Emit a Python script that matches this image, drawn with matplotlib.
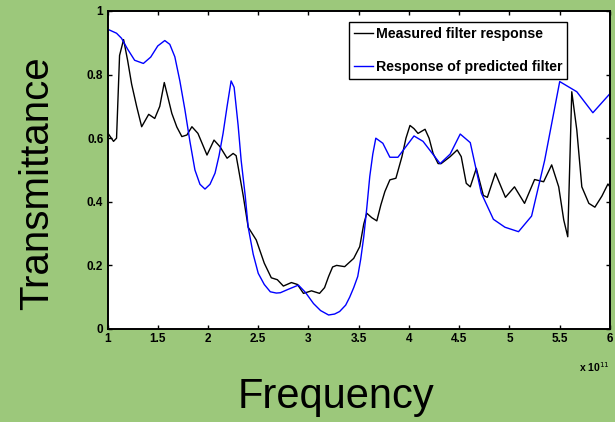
#Transmittance of the measured filter against the predicted filter response

import matplotlib
matplotlib.use('Agg')
import matplotlib.pyplot as plt
from matplotlib import font_manager

# frequency in units of 1e11 Hz
MeasuredFreq = [1.01, 1.06, 1.09, 1.12, 1.16, 1.20, 1.24, 1.29, 1.34, 1.41, 1.47, 1.52, 1.565,
	1.60, 1.64, 1.69, 1.74, 1.79, 1.84, 1.90, 1.99, 2.06, 2.12, 2.19, 2.25, 2.28, 2.30,
	2.35, 2.40, 2.48, 2.56, 2.63, 2.69, 2.75, 2.83, 2.89, 2.95, 3.03, 3.11, 3.16, 3.20,
	3.24, 3.28, 3.36, 3.45, 3.51, 3.55, 3.58, 3.63, 3.68, 3.72, 3.76, 3.81, 3.87, 3.93,
	3.97, 4.01, 4.05, 4.09, 4.16, 4.20, 4.24, 4.29, 4.32, 4.41, 4.48, 4.52, 4.57, 4.61,
	4.67, 4.74, 4.78, 4.86, 4.96, 5.05, 5.15, 5.25, 5.34, 5.42, 5.49, 5.54, 5.58, 5.62,
	5.67, 5.72, 5.79, 5.85, 5.92, 5.98, 6.00]
MeasuredT = [0.613, 0.590, 0.600, 0.860, 0.910, 0.845, 0.770, 0.700, 0.636, 0.675, 0.662, 0.700, 0.775,
	0.730, 0.678, 0.635, 0.605, 0.610, 0.636, 0.615, 0.547, 0.594, 0.573, 0.537, 0.552, 0.545, 0.510,
	0.420, 0.320, 0.280, 0.207, 0.161, 0.155, 0.135, 0.146, 0.140, 0.112, 0.120, 0.112, 0.130, 0.165,
	0.195, 0.200, 0.196, 0.222, 0.259, 0.330, 0.364, 0.350, 0.340, 0.390, 0.432, 0.469, 0.474, 0.542,
	0.600, 0.640, 0.630, 0.615, 0.628, 0.600, 0.552, 0.520, 0.520, 0.542, 0.563, 0.542, 0.458, 0.447,
	0.505, 0.420, 0.414, 0.490, 0.414, 0.447, 0.395, 0.470, 0.463, 0.516, 0.447, 0.343, 0.290, 0.746,
	0.626, 0.447, 0.395, 0.383, 0.418, 0.456, 0.447]

PredictedFreq = [1.02, 1.09, 1.14, 1.20, 1.27, 1.357, 1.43, 1.50, 1.57, 1.62, 1.67, 1.72, 1.77,
	1.82, 1.87, 1.92, 1.97, 2.02, 2.07, 2.11, 2.15, 2.19, 2.23, 2.26, 2.30, 2.33, 2.37, 2.40,
	2.45, 2.50, 2.56, 2.62, 2.68, 2.72, 2.80, 2.90, 2.97, 3.05, 3.12, 3.20, 3.26, 3.31, 3.37,
	3.41, 3.45, 3.49, 3.52, 3.55, 3.58, 3.61, 3.64, 3.67, 3.74, 3.81, 3.89, 4.05, 4.14, 4.31,
	4.41, 4.51, 4.61, 4.72, 4.84, 4.955, 5.09, 5.22, 5.35, 5.50, 5.67, 5.83, 6.00]
PredictedT = [0.940, 0.930, 0.914, 0.880, 0.845, 0.835, 0.855, 0.890, 0.907, 0.895, 0.856, 0.780, 0.690,
	0.590, 0.500, 0.455, 0.440, 0.455, 0.490, 0.545, 0.615, 0.700, 0.780, 0.760, 0.640, 0.530, 0.420, 0.320,
	0.235, 0.175, 0.140, 0.117, 0.113, 0.114, 0.125, 0.138, 0.115, 0.080, 0.058, 0.044, 0.047, 0.055, 0.075,
	0.100, 0.130, 0.165, 0.220, 0.290, 0.380, 0.480, 0.550, 0.600, 0.584, 0.540, 0.540, 0.607, 0.590, 0.520,
	0.550, 0.613, 0.586, 0.427, 0.345, 0.320, 0.306, 0.355, 0.530, 0.778, 0.746, 0.680, 0.740]

XTicks = [1, 1.5, 2, 2.5, 3, 3.5, 4, 4.5, 5, 5.5, 6]
XTickLabels = ['1', '1.5', '2', '2.5', '3', '3.5', '4', '4.5', '5', '5.5', '6']
YTicks = [0, 0.2, 0.4, 0.6, 0.8, 1]
YTickLabels = ['0', '0.2', '0.4', '0.6', '0.8', '1']

green = '#9CC87B'

# narrow bold face for ticks and legend, plain Liberation Sans Bold if no narrow face exists
installed = {f.name for f in font_manager.fontManager.ttflist}
if 'Liberation Sans Narrow' in installed:
	narrow = ['Liberation Sans Narrow', 'DejaVu Sans']
	tick_size, legend_size, exp_size = 10, 12.5, 9
else:
	narrow = ['Liberation Sans', 'DejaVu Sans']
	tick_size, legend_size, exp_size = 8.5, 10.2, 7.5
hfont = {'family': ['Liberation Sans', 'DejaVu Sans']}

fig = plt.figure(figsize=(6.15, 4.22), dpi=100, facecolor=green)
ax = fig.add_axes([0.1748, 0.2204, 0.817, 0.7536])

ax.plot(MeasuredFreq, MeasuredT, color='black', linewidth=1.0, label='Measured filter response')
ax.plot(PredictedFreq, PredictedT, color='#0000FF', linewidth=1.0, label='Response of predicted filter')

ax.set_xlim(1, 6)
ax.set_ylim(0, 1)
ax.set_xticks(XTicks)
ax.set_xticklabels(XTickLabels, family=narrow, fontweight='bold', fontsize=tick_size)
ax.set_yticks(YTicks)
ax.set_yticklabels(YTickLabels, family=narrow, fontweight='bold', fontsize=tick_size)
ax.tick_params(direction='in', length=3, width=1, top=True, right=True, pad=3)
for spine in ax.spines.values():
	spine.set_linewidth(1.4)

leg = ax.legend(loc='upper left', bbox_to_anchor=(0.48, 0.966), handlelength=1.35, handletextpad=0.2,
	borderpad=0.35, labelspacing=1.35, borderaxespad=0, fancybox=False, framealpha=1, edgecolor='black',
	prop={'family': narrow, 'weight': 'bold', 'size': legend_size})
leg.get_frame().set_linewidth(1.0)

fig.text(0.546, 0.012, 'Frequency', fontsize=30, ha='center', va='bottom', **hfont)
fig.text(0.06, 0.565, 'Transmittance', fontsize=29, rotation=90, ha='center', va='center', **hfont)
fig.text(0.992, 0.113, r'x 10$^{11}$', fontsize=exp_size, fontweight='bold', ha='right', va='bottom', family=narrow)

plt.savefig('out.png', format='png', facecolor=green)
